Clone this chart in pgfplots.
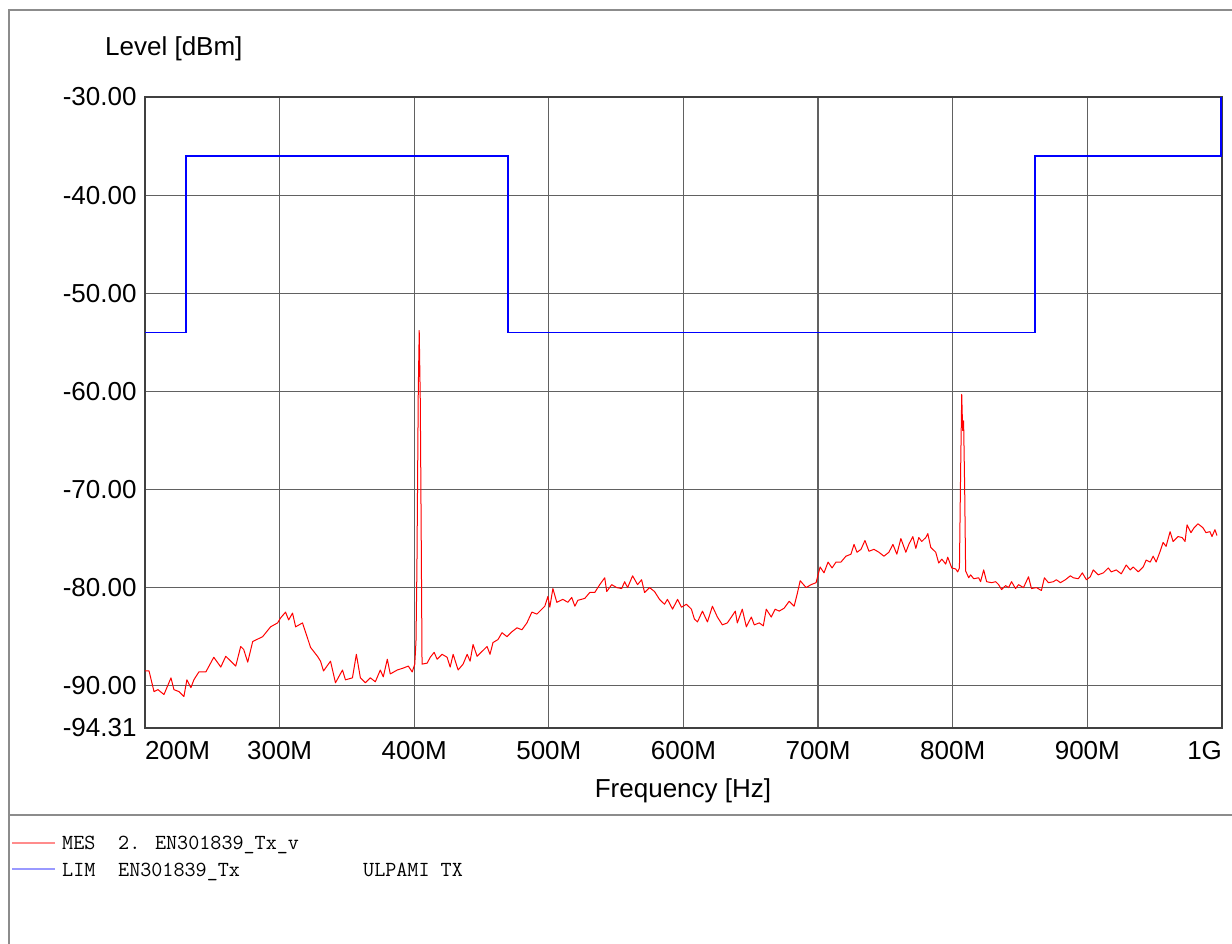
\documentclass[border=0pt]{standalone}
\usepackage{fontspec}
\setmainfont{Liberation Sans}
\usepackage{pgfplots}
\pgfplotsset{compat=1.18}
\newcommand\bigf{\fontsize{26bp}{30bp}\selectfont}
\newcommand\monof{\ttfamily\fontsize{21.5bp}{25bp}\selectfont}
\begin{document}
\begin{tikzpicture}[x=1bp,y=1bp]
\useasboundingbox (0,0) rectangle (1232,944);
% frame
\draw[black!45,line width=1.5bp] (9,0) -- (9,934) -- (1232,934);
\draw[black!45,line width=1.5bp] (9,129) -- (1232,129);
\begin{axis}[
  at={(145bp,216bp)}, anchor=south west,
  scale only axis, width=1077bp, height=631bp,
  xmin=200, xmax=1000, ymin=-94.31, ymax=-30,
  xtick={200,300,400,500,600,700,800,900,1000},
  xticklabels={\makebox[0pt][l]{200M},300M,400M,500M,600M,700M,800M,900M,\makebox[0pt][r]{1G}},
  ytick={-94.31,-90,-80,-70,-60,-50,-40,-30},
  yticklabels={-94.31,-90.00,-80.00,-70.00,-60.00,-50.00,-40.00,-30.00},
  grid=major,
  major grid style={black!62,line width=1.2bp},
  major tick length=0pt,
  axis line style={black!75,line width=1.5bp},
  tick label style={font=\bigf},
  xticklabel style={yshift=-10bp},
  yticklabel style={xshift=-5bp},
  clip=true,
]
% limit line
\addplot[blue,line width=1.8bp] coordinates {
(200,-54) (230.4,-54) (230.4,-36) (469.6,-36) (469.6,-54) (861.3,-54) (861.3,-36) (999.5,-36) (999.5,-30)};
% measurement
\addplot[red,line width=1bp,line join=round] table {
200.0 -88.5
203.0 -88.5
206.7 -90.6
209.6 -90.4
214.1 -90.9
219.3 -89.2
221.5 -90.4
225.2 -90.6
228.9 -91.1
231.1 -89.4
234.1 -90.2
236.3 -89.4
240.0 -88.6
245.2 -88.6
251.1 -87.1
256.3 -88.1
260.0 -87.0
267.4 -88.0
271.1 -86.0
273.3 -86.3
276.3 -87.6
280.0 -85.5
287.4 -85.0
293.3 -84.0
298.5 -83.6
300.7 -83.1
304.4 -82.5
306.7 -83.3
309.6 -82.6
311.9 -84.0
317.0 -83.6
323.0 -86.1
328.1 -87.0
330.4 -87.5
332.6 -88.5
337.8 -87.5
341.5 -89.7
346.7 -88.4
348.9 -89.4
354.1 -89.2
357.0 -86.8
360.0 -89.2
363.7 -89.7
367.4 -89.2
371.1 -89.6
374.8 -88.4
377.0 -89.1
380.0 -87.3
382.2 -88.8
387.4 -88.4
391.9 -88.2
395.6 -88.0
398.5 -88.6
400.4 -87.8
401.3 -85.5
402.0 -78.0
403.0 -60.0
403.7 -53.8
404.5 -61.0
405.2 -75.0
405.8 -87.8
409.6 -87.7
411.9 -87.1
414.8 -86.6
417.0 -87.3
420.7 -86.8
424.4 -87.1
426.7 -88.1
428.9 -86.8
432.6 -88.4
436.3 -87.8
439.3 -86.8
441.5 -87.5
443.7 -85.8
446.7 -87.0
450.4 -86.5
454.1 -86.0
456.3 -86.8
458.5 -85.6
462.2 -85.3
465.2 -84.6
468.9 -85.0
472.6 -84.5
476.3 -84.1
480.0 -84.3
483.7 -83.6
487.4 -82.5
491.1 -82.7
494.8 -82.2
497.0 -81.9
499.3 -80.9
500.7 -82.0
503.0 -80.1
505.9 -81.5
510.4 -81.2
514.1 -81.5
517.0 -81.0
519.3 -81.9
521.5 -81.3
526.7 -81.1
530.4 -80.5
534.1 -80.5
537.8 -79.7
541.5 -79.0
543.0 -80.4
546.7 -79.7
550.4 -80.0
554.1 -80.1
556.3 -79.4
558.5 -80.0
562.2 -78.8
565.9 -79.7
568.9 -79.2
571.1 -80.5
574.8 -80.0
578.5 -80.4
582.2 -81.2
585.9 -81.7
588.1 -81.2
591.9 -82.2
595.6 -81.2
598.5 -82.0
602.2 -81.7
605.9 -82.2
608.1 -83.2
610.4 -83.5
614.1 -82.4
617.8 -83.5
621.5 -81.9
625.2 -83.0
628.9 -83.8
632.6 -83.6
635.6 -83.0
638.5 -82.4
640.0 -83.6
643.7 -82.2
646.7 -84.0
650.4 -83.0
652.6 -83.8
656.3 -83.6
659.3 -83.9
661.5 -82.2
665.2 -83.0
668.1 -82.2
671.1 -82.4
674.8 -82.1
678.5 -81.4
682.2 -81.9
684.4 -80.7
686.7 -79.3
691.1 -80.0
694.8 -79.7
698.5 -79.5
700.0 -78.7
701.5 -77.9
704.4 -78.5
707.4 -77.4
710.4 -78.0
713.3 -77.4
717.0 -77.4
720.7 -76.8
724.4 -76.6
726.7 -75.6
728.9 -76.4
731.9 -76.1
734.8 -75.2
737.8 -76.3
741.5 -76.1
745.2 -76.4
748.9 -76.8
752.6 -76.4
755.6 -75.6
758.5 -76.6
761.5 -75.0
765.2 -76.4
767.4 -75.6
770.4 -74.8
772.6 -76.0
774.8 -74.9
777.0 -75.3
780.0 -74.9
781.5 -74.5
783.7 -75.9
787.4 -76.4
789.6 -77.5
791.9 -77.1
794.8 -77.6
796.3 -76.9
799.3 -78.0
802.2 -78.1
803.7 -78.4
805.0 -78.0
805.9 -68.0
806.7 -60.3
807.4 -64.0
808.1 -63.0
808.9 -70.0
809.6 -78.3
811.9 -79.0
813.3 -78.7
815.6 -79.1
819.3 -79.0
820.7 -79.4
823.0 -78.2
825.2 -79.4
828.9 -79.5
831.9 -79.4
834.1 -79.7
836.3 -80.2
839.3 -79.8
841.5 -80.0
843.7 -79.4
846.7 -80.1
848.9 -79.7
852.6 -80.0
856.3 -78.9
858.5 -80.1
862.2 -80.0
865.9 -80.3
868.1 -79.0
871.1 -79.5
874.8 -79.4
877.0 -79.2
880.0 -79.5
883.7 -79.2
887.4 -78.8
889.6 -79.0
893.3 -79.1
896.3 -78.5
899.3 -79.2
902.2 -78.9
904.4 -78.2
908.1 -78.7
911.9 -78.5
915.6 -78.0
917.8 -78.4
921.5 -78.2
925.2 -78.6
928.9 -77.7
931.9 -78.2
934.1 -77.9
937.8 -78.4
941.5 -77.9
943.7 -77.2
946.7 -77.4
948.9 -76.8
951.1 -77.4
954.1 -76.3
956.3 -75.4
958.5 -75.8
961.5 -74.3
963.7 -75.3
967.4 -74.8
970.4 -74.9
972.6 -75.3
974.1 -73.6
977.0 -74.4
979.3 -73.9
982.2 -73.5
985.9 -73.9
988.1 -74.4
991.1 -74.3
992.6 -74.8
994.8 -74.1
996.3 -74.7
};
\end{axis}
% axis titles
\node[anchor=base west,inner sep=0pt,font=\bigf] at (105,888) {Level [dBm]};
\node[anchor=base,inner sep=0pt,font=\bigf] at (683,146) {Frequency [Hz]};
% legend
\draw[red!45,line width=1.3bp] (12,101) -- (55,101);
\draw[blue!40,line width=1.3bp] (12,75) -- (55,75);
\node[anchor=base west,inner sep=0pt,font=\monof] at (62,94) {MES};
\node[anchor=base west,inner sep=0pt,font=\monof] at (118,94) {2. EN301839\_Tx\_v};
\node[anchor=base west,inner sep=0pt,font=\monof] at (62,67) {LIM};
\node[anchor=base west,inner sep=0pt,font=\monof] at (118,67) {EN301839\_Tx};
\node[anchor=base west,inner sep=0pt,font=\monof] at (363,67) {ULPAMI TX};
\end{tikzpicture}
\end{document}
